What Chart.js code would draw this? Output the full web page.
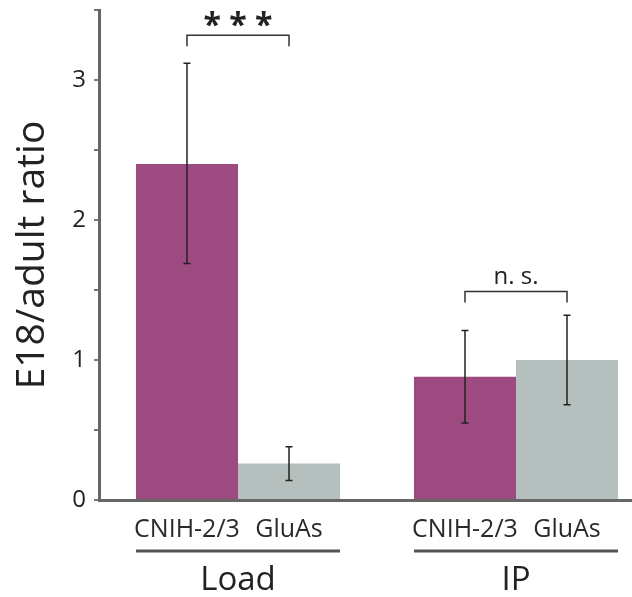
<!DOCTYPE html>
<html>
<head>
<meta charset="utf-8">
<script src="https://cdn.jsdelivr.net/npm/chart.js@4"></script>
<style>
  html, body { margin: 0; padding: 0; background: #fff; overflow: hidden; }
  #wrap { width: 660px; height: 597px; }
</style>
</head>
<body>
<div id="wrap"><canvas id="barChart"></canvas></div>
<script>
const groups = ['Load', 'IP'];
const seriesNames = ['CNIH-2/3', 'GluAs'];
const cnihMean = [2.40, 0.88];
const cnihHigh = [3.12, 1.21];
const cnihLow = [1.69, 0.55];
const gluMean = [0.26, 1.00];
const gluHigh = [0.38, 1.32];
const gluLow = [0.14, 0.68];
const sigText = ['***', 'n. s.'];
const sigLevel = [3.32, 1.49];
const yTicks = [0, 1, 2, 3];

const FONT = "'Open Sans', 'DejaVu Sans', sans-serif";

const overlay = {
  id: 'overlay',
  afterDatasetsDraw(chart) {
    const ctx = chart.ctx;
    const y = chart.scales.y;
    const bottom = chart.chartArea.bottom;
    ctx.save();
    // error bars
    chart.data.datasets.forEach((ds, i) => {
      chart.getDatasetMeta(i).data.forEach((bar, j) => {
        const hi = y.getPixelForValue(ds.errHigh[j]);
        const lo = y.getPixelForValue(ds.errLow[j]);
        ctx.strokeStyle = '#222';
        ctx.lineWidth = 1.5;
        ctx.beginPath();
        ctx.moveTo(bar.x, hi); ctx.lineTo(bar.x, lo);
        ctx.moveTo(bar.x - 3.5, hi); ctx.lineTo(bar.x + 3.5, hi);
        ctx.moveTo(bar.x - 3.5, lo); ctx.lineTo(bar.x + 3.5, lo);
        ctx.stroke();
      });
    });
    // per bar labels, group underlines, significance brackets
    const m0 = chart.getDatasetMeta(0).data;
    const m1 = chart.getDatasetMeta(1).data;
    groups.forEach((g, j) => {
      const a = m0[j], b = m1[j];
      ctx.fillStyle = '#2a2a2a';
      ctx.font = '25px ' + FONT;
      ctx.textAlign = 'center';
      ctx.textBaseline = 'middle';
      ctx.fillText(seriesNames[0], a.x, bottom + 30);
      ctx.fillText(seriesNames[1], b.x, bottom + 30);

      ctx.strokeStyle = '#555';
      ctx.lineWidth = 3;
      ctx.beginPath();
      ctx.moveTo(a.x - a.width / 2, bottom + 51);
      ctx.lineTo(b.x + b.width / 2, bottom + 51);
      ctx.stroke();

      const by = y.getPixelForValue(sigLevel[j]);
      ctx.strokeStyle = '#333';
      ctx.lineWidth = 1.5;
      ctx.beginPath();
      ctx.moveTo(a.x, by + 11); ctx.lineTo(a.x, by);
      ctx.lineTo(b.x, by); ctx.lineTo(b.x, by + 11);
      ctx.stroke();
      ctx.fillStyle = '#222';
      if (sigText[j] === '***') {
        ctx.font = 'bold 32px ' + FONT;
        ctx.fillText('* * *', (a.x + b.x) / 2, by - 8);
      } else {
        ctx.font = '24px ' + FONT;
        ctx.fillText(sigText[j], (a.x + b.x) / 2, by - 14);
      }
    });
    ctx.restore();
  }
};

new Chart(document.getElementById('barChart'), {
  type: 'bar',
  data: {
    labels: groups,
    datasets: [
      {
        label: seriesNames[0],
        data: cnihMean,
        errHigh: cnihHigh,
        errLow: cnihLow,
        backgroundColor: '#9c4a80'
      },
      {
        label: seriesNames[1],
        data: gluMean,
        errHigh: gluHigh,
        errLow: gluLow,
        backgroundColor: '#b5bfbd'
      }
    ]
  },
  options: {
    responsive: true,
    maintainAspectRatio: false,
    animation: false,
    layout: { padding: { top: 10, right: 5, left: 0, bottom: 0 } },
    datasets: { bar: { categoryPercentage: 0.734, barPercentage: 1.0 } },
    plugins: {
      legend: { display: false },
      tooltip: { enabled: false }
    },
    scales: {
      x: {
        grid: { display: false },
        border: { display: true, color: '#666', width: 3 },
        ticks: {
          color: '#222',
          font: { size: 33, family: FONT },
          padding: 53
        },
        afterFit: s => { s.height = 97; }
      },
      y: {
        min: 0,
        max: 3.5,
        grid: {
          display: true,
          drawOnChartArea: false,
          drawTicks: true,
          tickLength: 5,
          tickColor: '#777',
          lineWidth: 2
        },
        border: { display: true, color: '#666', width: 3 },
        ticks: {
          stepSize: 0.5,
          color: '#222',
          font: c => ({ size: yTicks.includes(c.tick && c.tick.value) ? 24 : 1, family: FONT }),
          padding: 8,
          callback: v => yTicks.includes(v) ? String(v) : ''
        },
        title: {
          display: true,
          text: 'E18/adult ratio',
          color: '#222',
          font: { size: 39, family: FONT },
          padding: { top: 9, bottom: 0 }
        },
        afterFit: s => { s.width = 99; }
      }
    }
  },
  plugins: [overlay]
});
</script>
</body>
</html>
